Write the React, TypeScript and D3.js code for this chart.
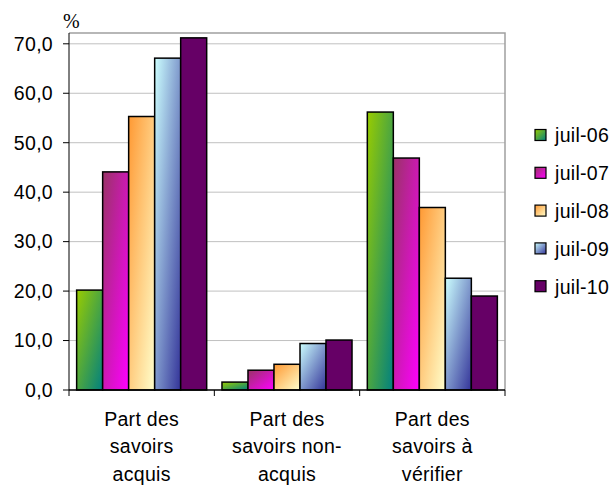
import React from "react";
import * as d3 from "d3";

const categories = [
  ["Part des", "savoirs", "acquis"],
  ["Part des", "savoirs non-", "acquis"],
  ["Part des", "savoirs à", "vérifier"],
];
const series = ["juil-06", "juil-07", "juil-08", "juil-09", "juil-10"];
const values = [
  [20.2, 1.6, 56.2],
  [44.1, 4.0, 46.9],
  [55.3, 5.2, 36.9],
  [67.1, 9.4, 22.6],
  [71.2, 10.1, 19.0],
];
const yTicks = [0, 10, 20, 30, 40, 50, 60, 70];
const gradients = [
  ["#99cc00", "#008080"],
  ["#993366", "#ff00ff"],
  ["#ff9933", "#ffffcc"],
  ["#ccffff", "#333399"],
  ["#660066", "#660066"],
];

export default function App() {
  const width = 615;
  const height = 490;
  const left = 69;
  const right = 505;
  const top = 33;
  const bottom = 390;
  const font = "'Liberation Sans', Arial, sans-serif";
  const fs = 19.5;

  const x0 = d3
    .scaleBand<number>()
    .domain(d3.range(categories.length))
    .range([left, right]);
  const x1 = d3
    .scaleBand<number>()
    .domain(d3.range(series.length))
    .range([0, x0.bandwidth()])
    .paddingOuter(0.294);
  const y = d3.scaleLinear().domain([0, 70]).range([bottom, 43.8]);

  return (
    <svg
      width={width}
      height={height}
      style={{ position: "absolute", left: 0, top: 0, background: "#fff" }}
    >
      <defs>
        {gradients.map((g, i) => (
          <linearGradient key={i} id={`g${i}`} x1="0" y1="0" x2="1" y2="1">
            <stop offset="0" stopColor={g[0]} />
            <stop offset="1" stopColor={g[1]} />
          </linearGradient>
        ))}
      </defs>

      {/* grid */}
      {yTicks.slice(1).map((t) => (
        <line key={t} x1={left} x2={right} y1={y(t)} y2={y(t)} stroke="#c0c0c0" />
      ))}
      {/* plot frame top/right */}
      <path d={`M${left},${top}H${right}V${bottom}`} fill="none" stroke="#a0a0a0" strokeWidth={1.5} />

      {/* bars */}
      {series.map((s, si) => (
        <g key={s}>
          {values[si].map((v, ci) => (
            <rect
              key={ci}
              x={(x0(ci) ?? 0) + (x1(si) ?? 0)}
              y={y(v)}
              width={x1.bandwidth()}
              height={y(0) - y(v)}
              fill={`url(#g${si})`}
              stroke="#000"
              strokeWidth={1.5}
            />
          ))}
        </g>
      ))}

      {/* y axis */}
      <line x1={left} x2={left} y1={top} y2={bottom} stroke="#000" />
      {yTicks.map((t) => (
        <g key={t}>
          <line x1={left - 6} x2={left} y1={y(t)} y2={y(t)} stroke="#000" />
          <text
            x={53}
            y={y(t)}
            dy="0.35em"
            textAnchor="end"
            fontFamily={font}
            fontSize={fs}
            letterSpacing={0.3}
            fill="#000"
          >
            {d3.format(".1f")(t).replace(".", ",")}
          </text>
        </g>
      ))}
      <text x={63} y={28} fontFamily="'Liberation Serif', 'Times New Roman', serif" fontSize={20}>
        %
      </text>

      {/* x axis */}
      <line x1={left} x2={right} y1={bottom} y2={bottom} stroke="#000" strokeWidth={1.5} />
      {d3.range(categories.length + 1).map((i) => {
        const xx = i < categories.length ? x0(i) ?? 0 : right;
        return <line key={i} x1={xx} x2={xx} y1={bottom} y2={bottom + 6} stroke="#000" />;
      })}
      {categories.map((lines, ci) => (
        <text
          key={ci}
          x={(x0(ci) ?? 0) + x0.bandwidth() / 2}
          y={420}
          textAnchor="middle"
          fontFamily={font}
          fontSize={fs}
          letterSpacing={0.3}
          fill="#000"
        >
          {lines.map((l, li) => (
            <tspan key={li} x={(x0(ci) ?? 0) + x0.bandwidth() / 2} dy={li === 0 ? "0.3em" : 27.5}>
              {l}
            </tspan>
          ))}
        </text>
      ))}

      {/* legend */}
      {series.map((s, i) => {
        const cy = 135.5 + i * 37.8;
        return (
          <g key={s}>
            <rect x={535} y={cy - 6} width={11} height={11} fill={`url(#g${i})`} stroke="#000" strokeWidth={1.2} />
            <text x={555} y={cy} dy="0.35em" fontFamily={font} fontSize={fs} letterSpacing={0.3} fill="#000">
              {s}
            </text>
          </g>
        );
      })}
    </svg>
  );
}
